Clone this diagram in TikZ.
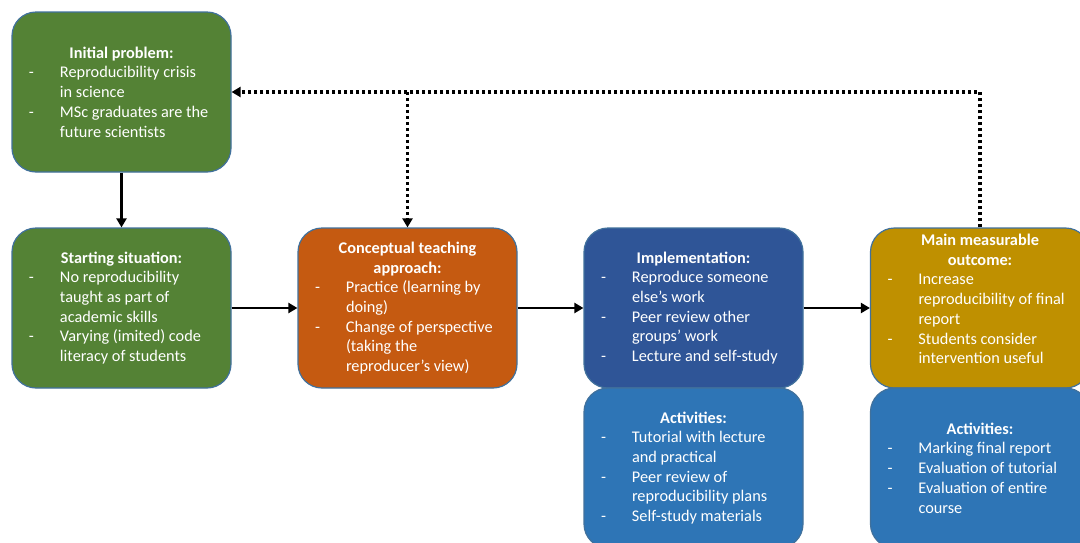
\documentclass[tikz,border=0pt]{standalone}
\usepackage{fontspec}
\setmainfont{Carlito}
\usetikzlibrary{arrows.meta}
\definecolor{cgreen}{HTML}{548235}
\definecolor{corange}{HTML}{C55A11}
\definecolor{cdblue}{HTML}{2F5597}
\definecolor{cgold}{HTML}{BF9000}
\definecolor{cblue}{HTML}{2E75B6}
\definecolor{cedge}{HTML}{41719C}
\newlength\bw \setlength\bw{219pt}
\newcommand\ttl[1]{\makebox[\bw][c]{\textbf{#1}}}
\newcommand\dl[1]{\makebox[\bw][l]{\makebox[48pt][l]{\hspace*{17pt}-}#1}}
\newcommand\cl[1]{\makebox[\bw][l]{\hspace*{48pt}#1}}
\tikzset{
  box/.style={draw=cedge, line width=1.2pt, rounded corners=24pt, minimum width=219pt, minimum height=160pt, inner sep=0pt},
  txt/.style={text=white, align=left, inner sep=0pt, font=\fontsize{16.3}{19.7}\selectfont},
  solidarrow/.style={line width=2.7pt, -{Triangle[length=9pt,width=10pt]}},
  dotline/.style={line width=3.4pt, dash pattern=on 3pt off 3pt},
  dotarrow/.style={dotline, -{Triangle[length=9pt,width=10pt]}},
}
\begin{document}
\begin{tikzpicture}[x=1pt,y=-1pt]
\useasboundingbox (0,0) rectangle (1080,542);
\clip (0,0) rectangle (1080,542);
\fill[white] (0,0) rectangle (1080,542);
% boxes
\node[box, fill=cgreen] (init) at (121.5,92) {};
\node[box, fill=cgreen] (start) at (121.5,308) {};
\node[box, fill=corange] (concept) at (407.5,308) {};
\node[box, fill=cdblue] (impl) at (693.5,308) {};
\node[box, fill=cgold] (main) at (980,308) {};
\node[box, fill=cblue] (act1) at (693.5,468) {};
\node[box, fill=cblue] (act2) at (980,468) {};
% texts
\node[txt] (initT) at (init.center) {\ttl{Initial problem:}\\ \dl{Reproducibility crisis}\\ \cl{in science}\\ \dl{MSc graduates are the}\\ \cl{future scientists}};
\node[txt] (startT) at (start.center) {\ttl{Starting situation:}\\ \dl{No reproducibility}\\ \cl{taught as part of}\\ \cl{academic skills}\\ \dl{Varying (imited) code}\\ \cl{literacy of students}};
\node[txt] (conceptT) at (concept.center) {\ttl{Conceptual teaching}\\ \ttl{approach:}\\ \dl{Practice (learning by}\\ \cl{doing)}\\ \dl{Change of perspective}\\ \cl{(taking the}\\ \cl{reproducer’s view)}};
\node[txt] (implT) at (impl.center) {\ttl{Implementation:}\\ \dl{Reproduce someone}\\ \cl{else’s work}\\ \dl{Peer review other}\\ \cl{groups’ work}\\ \dl{Lecture and self-study}};
\node[txt, yshift=9pt] (mainT) at (main.center) {\ttl{Main measurable}\\ \ttl{outcome:}\\ \dl{Increase}\\ \cl{reproducibility of final}\\ \cl{report}\\ \dl{Students consider}\\ \cl{intervention useful}};
\node[txt] (act1T) at (act1.center) {\ttl{Activities:}\\ \dl{Tutorial with lecture}\\ \cl{and practical}\\ \dl{Peer review of}\\ \cl{reproducibility plans}\\ \dl{Self-study materials}};
\node[txt] (act2T) at (act2.center) {\ttl{Activities:}\\ \dl{Marking final report}\\ \dl{Evaluation of tutorial}\\ \dl{Evaluation of entire}\\ \cl{course}};
% solid arrows
\draw[solidarrow] (init.south) -- (start.north);
\draw[solidarrow] (start.east) -- (concept.west);
\draw[solidarrow] (concept.east) -- (impl.west);
\draw[solidarrow] (impl.east) -- (main.west);
% dotted feedback
\coordinate (jn) at (concept.north |- init.east);
\draw[dotarrow] (main.north) |- (init.east);
\draw[dotarrow] (jn) -- (concept.north);
\end{tikzpicture}
\end{document}
